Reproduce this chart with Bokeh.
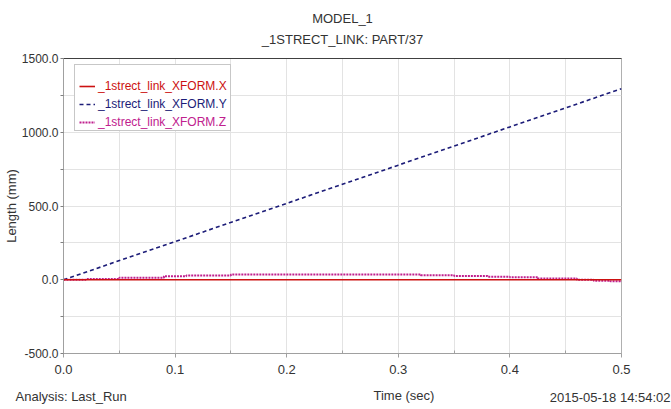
from bokeh.plotting import figure
from bokeh.models import (Legend, LegendItem, LinearAxis, FixedTicker,
                          SingleIntervalTicker, Range1d, Title)
from bokeh.embed import file_html
from bokeh.resources import INLINE

# ---------------- data ----------------
time_x = [0.0, 0.1, 0.2, 0.3, 0.4, 0.5]
xform_x = [0.0, 0.0, 0.0, 0.0, 0.0, 0.0]

time_y = [0.0, 0.1, 0.2, 0.3, 0.4, 0.5]
xform_y = [0.0, 259.0, 518.0, 777.0, 1036.0, 1295.0]

time_z = [0.0, 0.02, 0.05, 0.09, 0.11, 0.15, 0.32, 0.35, 0.38, 0.40, 0.425, 0.46, 0.475, 0.49, 0.5]
xform_z = [0.0, 5.0, 14.0, 24.0, 29.0, 35.0, 30.0, 25.0, 21.0, 17.0, 8.0, 0.0, -6.0, -11.0, -13.0]

x_ticks = [0.0, 0.1, 0.2, 0.3, 0.4, 0.5]
x_tick_labels = ["0.0", "0.1", "0.2", "0.3", "0.4", "0.5"]
x_minor_ticks = [0.05, 0.15, 0.25, 0.35, 0.45]
y_ticks = [-500, 0, 500, 1000, 1500]
y_tick_labels = ["-500.0", "0.0", "500.0", "1000.0", "1500.0"]
y_minor_ticks = [-250, 250, 750, 1250]

series_names = ["_1strect_link_XFORM.X", "_1strect_link_XFORM.Y", "_1strect_link_XFORM.Z"]
title_lines = ["MODEL_1", "_1STRECT_LINK: PART/37"]
x_label = "Time (sec)"
y_label = "Length (mm)"
analysis_text = "Analysis:  Last_Run"
date_text = "2015-05-18 14:54:02"

# ---------------- style ----------------
FONT = "Liberation Sans"
C_X = "#cc1111"
C_Y = "#1c1c78"
C_Z = "#c0208e"
TXT = "#333333"

p = figure(width=671, height=409, output_backend="svg", toolbar_location=None,
           x_range=Range1d(0, 0.5), y_range=Range1d(-500, 1500),
           min_border_left=63, min_border_right=50, min_border_top=58,
           min_border_bottom=56)
p.title = None
p.background_fill_color = "white"
p.border_fill_color = "white"
p.outline_line_color = "#b0b0b0"

p.xgrid.ticker = SingleIntervalTicker(interval=0.05)
p.ygrid.ticker = SingleIntervalTicker(interval=250)
p.xgrid.grid_line_color = "#e3e3e3"
p.ygrid.grid_line_color = "#e3e3e3"

xa = p.xaxis[0]
xa.ticker = FixedTicker(ticks=x_ticks, minor_ticks=x_minor_ticks)
xa.major_label_overrides = {t: l for t, l in zip(x_ticks, x_tick_labels)}
xa.axis_line_color = "#a0a0a0"
xa.major_tick_line_color = "#a0a0a0"
xa.minor_tick_line_color = "#a0a0a0"
xa.major_tick_out = 4
xa.major_tick_in = 0
xa.minor_tick_out = 0
xa.minor_tick_in = 3
xa.major_label_standoff = 7
xa.major_label_text_font = FONT
xa.major_label_text_font_size = "13px"
xa.major_label_text_color = TXT

ya = p.yaxis[0]
ya.ticker = FixedTicker(ticks=y_ticks, minor_ticks=y_minor_ticks)
ya.major_label_overrides = {t: l for t, l in zip(y_ticks, y_tick_labels)}
ya.axis_line_color = "#a0a0a0"
ya.major_tick_line_color = "#808080"
ya.minor_tick_line_color = "#808080"
ya.major_tick_out = 3
ya.major_tick_in = 0
ya.minor_tick_out = 3
ya.minor_tick_in = 0
ya.major_label_standoff = 2
ya.major_label_text_font = FONT
ya.major_label_text_font_size = "12px"
ya.major_label_text_color = TXT
ya.axis_label = y_label
ya.axis_label_standoff = 0
ya.axis_label_text_font = FONT
ya.axis_label_text_font_size = "13px"
ya.axis_label_text_font_style = "normal"
ya.axis_label_text_color = TXT

# dark top edge of the frame
top_axis = LinearAxis(ticker=FixedTicker(ticks=[]), axis_line_color="#404040",
                      axis_line_width=1.2,
                      major_tick_line_color=None, minor_tick_line_color=None,
                      major_tick_out=0, minor_tick_out=0, major_label_standoff=0)
p.add_layout(top_axis, "above")

# blank spacer axis under the tick labels (white tick, empty label)
spacer = LinearAxis(ticker=FixedTicker(ticks=[0.25]), axis_line_color=None,
                    major_tick_line_color="white", minor_tick_line_color=None,
                    major_tick_out=17, major_tick_in=0, minor_tick_out=0,
                    major_label_standoff=0, major_label_overrides={0.25: ""},
                    major_label_text_font=FONT, major_label_text_font_size="13px")
p.add_layout(spacer, "below")

tkw = dict(text_font=FONT, text_font_size="13px", text_font_style="normal",
           text_color=TXT)
p.add_layout(Title(text=title_lines[1], align="center", standoff=22.5, **tkw), "above")
p.add_layout(Title(text=title_lines[0], align="center", standoff=-15, **tkw), "above")

p.add_layout(Title(text=x_label, align="left", offset=310, standoff=-16, **tkw), "below")
p.add_layout(Title(text=analysis_text, align="left", offset=-48, standoff=-16, **tkw), "below")
p.add_layout(Title(text=date_text, align="right", offset=-49, standoff=-16, **tkw), "below")

ry = p.line(time_y, xform_y, line_color=C_Y, line_width=1.6, line_dash="4 3")
rz = p.step(time_z, xform_z, mode="after", line_color=C_Z, line_width=2.0, line_dash="2 1")
rx = p.line(time_x, xform_x, line_color=C_X, line_width=1.6)

FH = 295  # frame height
dummy = p.line([], [], line_alpha=0)
box = Legend(items=[LegendItem(label=" ", renderers=[dummy])],
             location=(11, FH - 8 - 65), padding=0, spacing=0,
             glyph_width=20, glyph_height=65, label_width=135, label_height=65,
             label_standoff=0, label_text_alpha=0, label_text_font_size="1px",
             border_line_color="#909090", border_line_width=1,
             background_fill_color="white", background_fill_alpha=1.0)
p.add_layout(box)

row_centers = [86, 104, 122]  # page y of legend rows
for r, c, name, rc in zip([rx, ry, rz], [C_X, C_Y, C_Z], series_names, row_centers):
    lg = Legend(items=[LegendItem(label=name, renderers=[r])],
                location=(16, FH - (rc - 58) - 8), padding=0, spacing=0,
                glyph_width=16, glyph_height=16, label_height=16,
                label_standoff=3,
                label_text_font=FONT, label_text_font_size="12px",
                label_text_color=c,
                border_line_color=None, background_fill_alpha=0)
    p.add_layout(lg)

open("out.html", "w").write(file_html(p, INLINE))
